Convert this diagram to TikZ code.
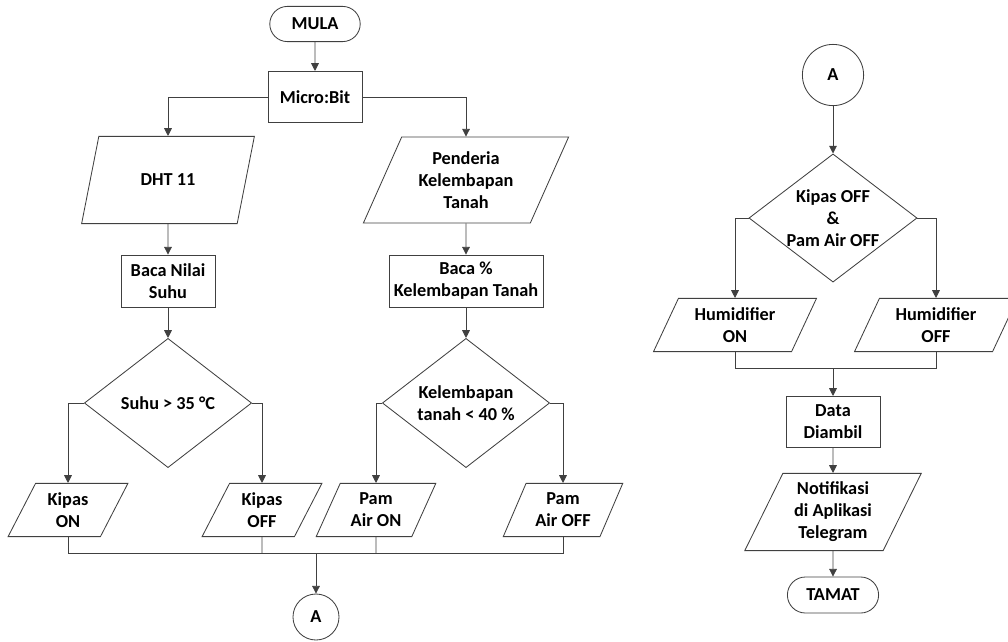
\documentclass[tikz,border=0pt]{standalone}
\usepackage{fontspec}
\setmainfont{Carlito}
\usetikzlibrary{shapes.geometric,shapes.misc,arrows.meta}

\begin{document}
\begin{tikzpicture}[x=0.025cm,y=-0.025cm,
  every node/.style={font=\fontsize{13}{15.6}\selectfont\bfseries,align=center,draw=black!75,line width=0.6pt,inner sep=1pt},
  term/.style={rounded rectangle,minimum width=2.33cm,minimum height=0.88cm},
  proc/.style={rectangle,minimum width=2.35cm,minimum height=1.28cm},
  io/.style={trapezium,trapezium left angle=64,trapezium right angle=116,trapezium stretches=true,minimum width=3cm,minimum height=1.33cm},
  decision/.style={diamond,shape aspect=1.3,inner sep=0pt,minimum width=4.18cm,minimum height=3.23cm},
  conn/.style={circle,minimum size=1.15cm},
  link/.style={draw=black!75,line width=0.6pt},
  flow/.style={link,-{Triangle[length=5.5pt,width=5.5pt]}}]
\useasboundingbox (0,0) rectangle (1008,641);

% left chart
\node[term] (mula) at (315,24) {MULA};
\node[proc] (micro) at (315,97) {Micro:Bit};
\node[io,minimum width=4.33cm,minimum height=2.18cm] (dht) at (168,180) {DHT 11};
\node[io,minimum width=5.13cm,minimum height=2.15cm] (penderia) at (466,180) {Penderia\\Kelembapan\\Tanah};
\node[proc,minimum height=1.3cm] (bacasuhu) at (168,281) {Baca Nilai\\Suhu};
\node[proc,minimum width=3.85cm,minimum height=1.3cm] (bacatanah) at (466,281) {Baca \%\\Kelembapan Tanah};
\node[decision] (suhu) at (168,403) {Suhu > 35 °C};
\node[decision] (tanah) at (466,403) {Kelembapan\\tanah < 40 \%};
\node[io] (kipason) at (68,510) {Kipas\\ON};
\node[io] (kipasoff) at (262,510) {Kipas\\OFF};
\node[io] (pamon) at (376,510) {Pam\\Air ON};
\node[io] (pamoff) at (563,510) {Pam\\Air OFF};
\coordinate (joinL) at (316,553);
\node[conn] (a1) at (316,617) {A};

\draw[flow] (mula) -- (micro);
\draw[flow] (micro) -| (dht);
\draw[flow] (micro) -| (penderia);
\draw[flow] (dht) -- (bacasuhu);
\draw[flow] (penderia) -- (bacatanah);
\draw[flow] (bacasuhu) -- (suhu);
\draw[flow] (bacatanah) -- (tanah);
\draw[flow] (suhu) -| (kipason);
\draw[flow] (suhu) -| (kipasoff);
\draw[flow] (tanah) -| (pamon);
\draw[flow] (tanah) -| (pamoff);
\draw[link] (kipason) |- (joinL) -| (pamoff);
\draw[link] (kipasoff) -- (kipasoff |- joinL);
\draw[link] (pamon) -- (pamon |- joinL);
\draw[flow] (joinL) -- (a1);

% right chart
\node[conn,minimum size=1.53cm] (a2) at (833,75) {A};
\node[decision,minimum width=4.2cm,minimum height=3.2cm] (cek) at (833,218) {Kipas OFF\\\&\\Pam Air OFF};
\node[io,minimum width=4.1cm] (humon) at (735,325) {Humidifier\\ON};
\node[io,minimum width=4.1cm] (humoff) at (936,325) {Humidifier\\OFF};
\coordinate (joinR) at (833,368);
\node[proc] (data) at (833,422) {Data\\Diambil};
\node[io,minimum width=4.43cm,minimum height=1.93cm] (notif) at (833,512) {Notifikasi\\di Aplikasi\\Telegram};
\node[term,minimum width=2.35cm,minimum height=0.9cm] (tamat) at (833,595) {TAMAT};

\draw[flow] (a2) -- (cek);
\draw[flow] (cek) -| (humon);
\draw[flow] (cek) -| (humoff);
\draw[link] (humon) |- (joinR) -| (humoff);
\draw[flow] (joinR) -- (data);
\draw[flow] (data) -- (notif);
\draw[flow] (notif) -- (tamat);
\end{tikzpicture}
\end{document}
